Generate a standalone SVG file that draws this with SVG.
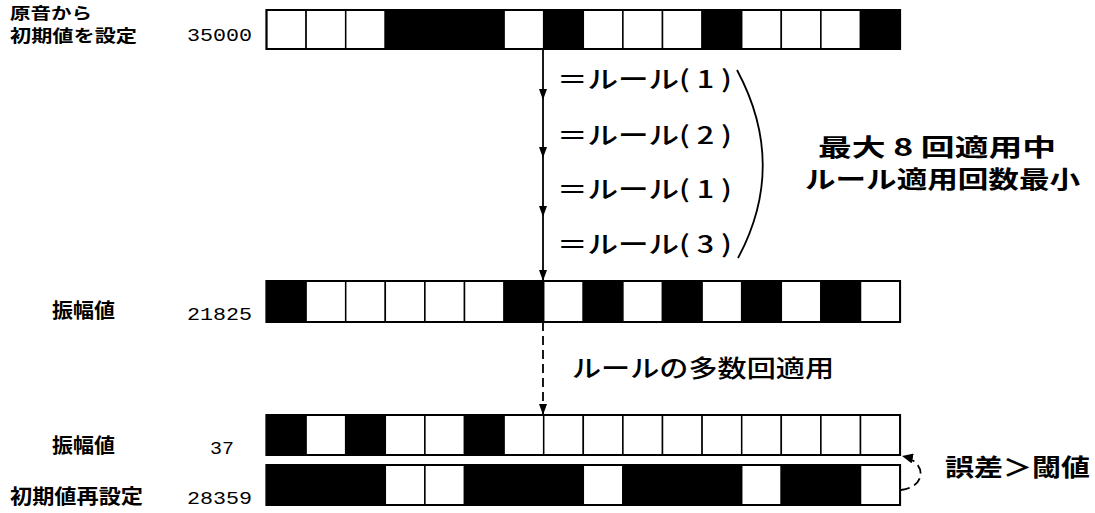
<svg xmlns="http://www.w3.org/2000/svg" width="1095" height="513" viewBox="0 0 1095 513">
<style>
.b{fill:#000;stroke:#000;stroke-width:1.5}
.w{fill:#fff;stroke:#000;stroke-width:1.5}
.frame{fill:none;stroke:#000;stroke-width:2}
.lbl{font-family:"Noto Sans CJK JP",sans-serif;font-weight:bold;fill:#000}
.num{font-family:"Liberation Mono","DejaVu Sans Mono",monospace;font-size:18px;fill:#000}
.jp{font-family:"Noto Sans CJK JP",sans-serif;font-weight:500;fill:#000}
.ln{fill:none;stroke:#000;stroke-width:1.8}
.dash{fill:none;stroke:#000;stroke-width:1.8;stroke-dasharray:9 5}
</style>
<defs>
<marker id="ah" markerUnits="userSpaceOnUse" markerWidth="8" markerHeight="11" refX="4" refY="11" orient="0">
<path d="M0,0 L8,0 L4,11 z" fill="#000"/>
</marker>
<marker id="ahc" markerUnits="userSpaceOnUse" markerWidth="12" markerHeight="10" refX="11" refY="5" orient="auto">
<path d="M0,0 L11,5 L0,10 z" fill="#000"/>
</marker>
</defs>

<g id="label-top">
<text class="lbl" x="10" y="19" font-size="16" textLength="82" lengthAdjust="spacingAndGlyphs">原音から</text>
<text class="lbl" x="10" y="42" font-size="17" textLength="127" lengthAdjust="spacingAndGlyphs">初期値を設定</text>
<text class="num" x="187" y="41" textLength="65" lengthAdjust="spacingAndGlyphs">35000</text>
</g>

<g id="bar-35000">
<rect class="w" x="266.5" y="10" width="39.6" height="39"/>
<rect class="w" x="306.1" y="10" width="39.6" height="39"/>
<rect class="w" x="345.7" y="10" width="39.6" height="39"/>
<rect class="b" x="385.3" y="10" width="39.6" height="39"/>
<rect class="b" x="424.9" y="10" width="39.6" height="39"/>
<rect class="b" x="464.5" y="10" width="39.6" height="39"/>
<rect class="w" x="504.1" y="10" width="39.6" height="39"/>
<rect class="b" x="543.7" y="10" width="39.6" height="39"/>
<rect class="w" x="583.3" y="10" width="39.6" height="39"/>
<rect class="w" x="622.9" y="10" width="39.6" height="39"/>
<rect class="w" x="662.5" y="10" width="39.6" height="39"/>
<rect class="b" x="702.1" y="10" width="39.6" height="39"/>
<rect class="w" x="741.7" y="10" width="39.6" height="39"/>
<rect class="w" x="781.3" y="10" width="39.6" height="39"/>
<rect class="w" x="820.9" y="10" width="39.6" height="39"/>
<rect class="b" x="860.5" y="10" width="39.6" height="39"/>
<rect class="frame" x="266.5" y="10" width="633.6" height="39"/>
</g>

<g id="label-21825">
<text class="lbl" x="52" y="318" font-size="20" textLength="63" lengthAdjust="spacingAndGlyphs">振幅値</text>
<text class="num" x="187" y="320" textLength="65" lengthAdjust="spacingAndGlyphs">21825</text>
</g>

<g id="bar-21825">
<rect class="b" x="266.5" y="281" width="39.6" height="41"/>
<rect class="w" x="306.1" y="281" width="39.6" height="41"/>
<rect class="w" x="345.7" y="281" width="39.6" height="41"/>
<rect class="w" x="385.3" y="281" width="39.6" height="41"/>
<rect class="w" x="424.9" y="281" width="39.6" height="41"/>
<rect class="w" x="464.5" y="281" width="39.6" height="41"/>
<rect class="b" x="504.1" y="281" width="39.6" height="41"/>
<rect class="w" x="543.7" y="281" width="39.6" height="41"/>
<rect class="b" x="583.3" y="281" width="39.6" height="41"/>
<rect class="w" x="622.9" y="281" width="39.6" height="41"/>
<rect class="b" x="662.5" y="281" width="39.6" height="41"/>
<rect class="w" x="702.1" y="281" width="39.6" height="41"/>
<rect class="b" x="741.7" y="281" width="39.6" height="41"/>
<rect class="w" x="781.3" y="281" width="39.6" height="41"/>
<rect class="b" x="820.9" y="281" width="39.6" height="41"/>
<rect class="w" x="860.5" y="281" width="39.6" height="41"/>
<rect class="frame" x="266.5" y="281" width="633.6" height="41"/>
</g>

<g id="label-37">
<text class="lbl" x="52" y="453" font-size="20" textLength="63" lengthAdjust="spacingAndGlyphs">振幅値</text>
<text class="num" x="210" y="454" textLength="24" lengthAdjust="spacingAndGlyphs">37</text>
</g>

<g id="bar-37">
<rect class="b" x="266.5" y="415" width="39.6" height="40"/>
<rect class="w" x="306.1" y="415" width="39.6" height="40"/>
<rect class="b" x="345.7" y="415" width="39.6" height="40"/>
<rect class="w" x="385.3" y="415" width="39.6" height="40"/>
<rect class="w" x="424.9" y="415" width="39.6" height="40"/>
<rect class="b" x="464.5" y="415" width="39.6" height="40"/>
<rect class="w" x="504.1" y="415" width="39.6" height="40"/>
<rect class="w" x="543.7" y="415" width="39.6" height="40"/>
<rect class="w" x="583.3" y="415" width="39.6" height="40"/>
<rect class="w" x="622.9" y="415" width="39.6" height="40"/>
<rect class="w" x="662.5" y="415" width="39.6" height="40"/>
<rect class="w" x="702.1" y="415" width="39.6" height="40"/>
<rect class="w" x="741.7" y="415" width="39.6" height="40"/>
<rect class="w" x="781.3" y="415" width="39.6" height="40"/>
<rect class="w" x="820.9" y="415" width="39.6" height="40"/>
<rect class="w" x="860.5" y="415" width="39.6" height="40"/>
<rect class="frame" x="266.5" y="415" width="633.6" height="40"/>
</g>

<g id="label-28359">
<text class="lbl" x="10" y="504" font-size="20" textLength="133" lengthAdjust="spacingAndGlyphs">初期値再設定</text>
<text class="num" x="187" y="504" textLength="65" lengthAdjust="spacingAndGlyphs">28359</text>
</g>

<g id="bar-28359">
<rect class="b" x="266.5" y="465" width="39.6" height="40"/>
<rect class="b" x="306.1" y="465" width="39.6" height="40"/>
<rect class="b" x="345.7" y="465" width="39.6" height="40"/>
<rect class="w" x="385.3" y="465" width="39.6" height="40"/>
<rect class="w" x="424.9" y="465" width="39.6" height="40"/>
<rect class="b" x="464.5" y="465" width="39.6" height="40"/>
<rect class="b" x="504.1" y="465" width="39.6" height="40"/>
<rect class="b" x="543.7" y="465" width="39.6" height="40"/>
<rect class="w" x="583.3" y="465" width="39.6" height="40"/>
<rect class="b" x="622.9" y="465" width="39.6" height="40"/>
<rect class="b" x="662.5" y="465" width="39.6" height="40"/>
<rect class="b" x="702.1" y="465" width="39.6" height="40"/>
<rect class="w" x="741.7" y="465" width="39.6" height="40"/>
<rect class="b" x="781.3" y="465" width="39.6" height="40"/>
<rect class="b" x="820.9" y="465" width="39.6" height="40"/>
<rect class="w" x="860.5" y="465" width="39.6" height="40"/>
<rect class="frame" x="266.5" y="465" width="633.6" height="40"/>
</g>

<g id="connectors">
<line class="ln" x1="543" y1="49" x2="543" y2="100" marker-end="url(#ah)"/>
<line class="ln" x1="543" y1="100" x2="543" y2="158" marker-end="url(#ah)"/>
<line class="ln" x1="543" y1="158" x2="543" y2="217" marker-end="url(#ah)"/>
<line class="ln" x1="543" y1="217" x2="543" y2="281" marker-end="url(#ah)"/>
<line class="dash" x1="543" y1="322" x2="543" y2="415" marker-end="url(#ah)"/>
<path class="ln" d="M737,70 Q788,165 738,258"/>
<path class="dash" d="M901,490 C926,487 928,462 902,456" marker-end="url(#ahc)"/>
</g>

<g id="rule-labels">
<text class="jp" x="557" y="88" font-size="24" textLength="175" lengthAdjust="spacingAndGlyphs">＝ルール( 1 )</text>
<text class="jp" x="557" y="144" font-size="24" textLength="175" lengthAdjust="spacingAndGlyphs">＝ルール( 2 )</text>
<text class="jp" x="557" y="198" font-size="24" textLength="175" lengthAdjust="spacingAndGlyphs">＝ルール( 1 )</text>
<text class="jp" x="557" y="253" font-size="24" textLength="175" lengthAdjust="spacingAndGlyphs">＝ルール( 3 )</text>
</g>

<g id="note-max">
<text class="lbl" x="818" y="156" font-size="24" textLength="238" lengthAdjust="spacingAndGlyphs">最大 8 回適用中</text>
<text class="lbl" x="805" y="188" font-size="24" textLength="275" lengthAdjust="spacingAndGlyphs">ルール適用回数最小</text>
</g>

<g id="note-many">
<text class="jp" x="572" y="377" font-size="24" textLength="262" lengthAdjust="spacingAndGlyphs">ルールの多数回適用</text>
</g>

<g id="note-error">
<text class="lbl" x="945" y="476" font-size="24" textLength="145" lengthAdjust="spacingAndGlyphs">誤差＞閾値</text>
</g>
</svg>
